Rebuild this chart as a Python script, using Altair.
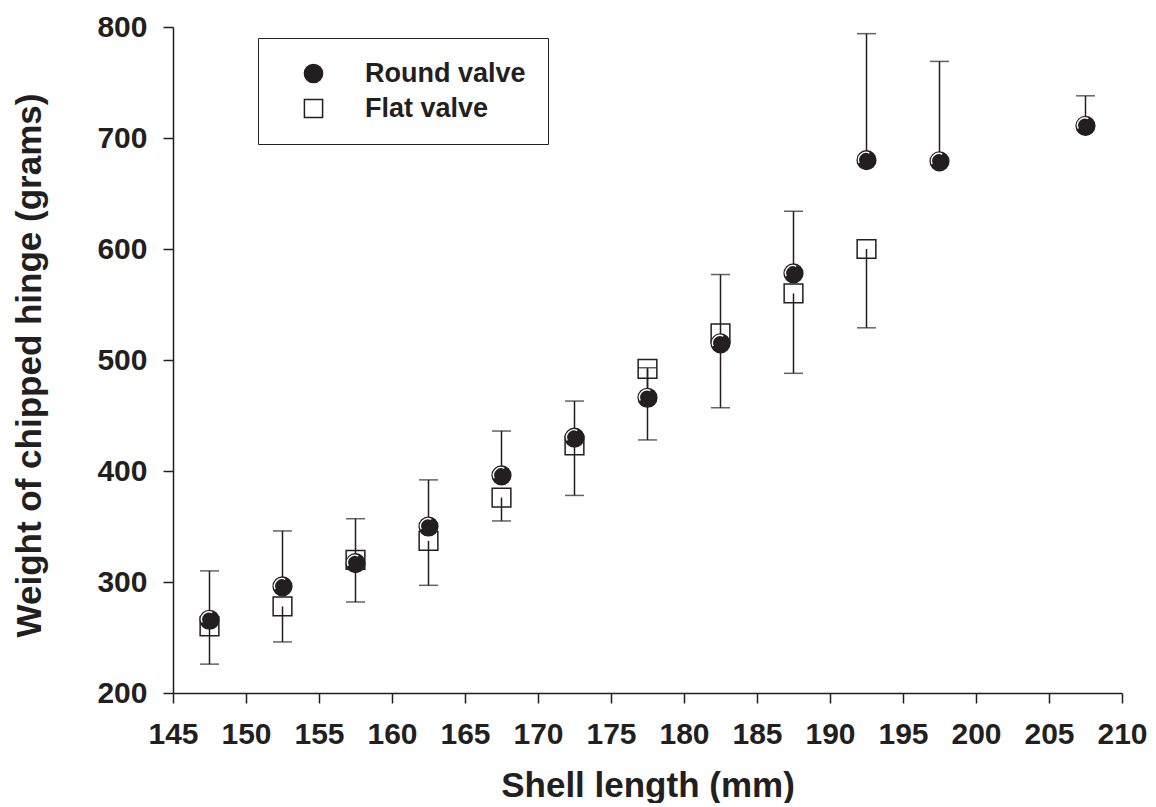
import altair as alt
import pandas as pd

# ---- data ----
round_length = [147.5, 152.5, 157.5, 162.5, 167.5, 172.5, 177.5, 182.5, 187.5, 192.5, 197.5, 207.5]
round_mean = [266, 296, 317, 350, 396, 430, 466, 515, 578, 680, 679, 711]
round_upper = [310, 346, 357, 392, 436, 463, 493, 577, 634, 794, 769, 738]

flat_length = [147.5, 152.5, 157.5, 162.5, 167.5, 172.5, 177.5, 182.5, 187.5, 192.5]
flat_mean = [260, 278, 320, 337, 376, 423, 492, 524, 560, 600]
flat_lower = [226, 246, 282, 297, 355, 378, 428, 457, 488, 529]

series_names = ["Round valve", "Flat valve"]
x_ticks = list(range(145, 211, 5))
y_ticks = list(range(200, 801, 100))

INK = "#231f20"
FONT = "Liberation Sans"

round_df = pd.DataFrame({"length": round_length, "mean": round_mean, "end": round_upper,
                         "series": series_names[0]})
flat_df = pd.DataFrame({"length": flat_length, "mean": flat_mean, "end": flat_lower,
                        "series": series_names[1]})
bars_df = pd.concat([round_df, flat_df], ignore_index=True)
points_df = pd.concat([flat_df, round_df], ignore_index=True)

x_enc = alt.X("length:Q",
              scale=alt.Scale(domain=[145, 210], nice=False, zero=False),
              axis=alt.Axis(values=x_ticks, title="Shell length (mm)", titleY=103,
                            titleBaseline="alphabetic", labelOverlap=False,
                            labelFlush=False))
y_scale = alt.Scale(domain=[200, 800], nice=False, zero=False)

rules = alt.Chart(bars_df).mark_rule(color=INK, strokeWidth=1.5).encode(
    x=x_enc,
    y=alt.Y("mean:Q", scale=y_scale,
            axis=alt.Axis(values=y_ticks, title="Weight of chipped hinge (grams)",
                          titleX=-133, titleY=338, titleBaseline="alphabetic",
                          labelOverlap=False, labelFlush=False)),
    y2="end:Q",
)

caps = alt.Chart(bars_df).mark_tick(color=INK, orient="horizontal", size=19, thickness=1.5).encode(
    x="length:Q",
    y=alt.Y("end:Q", scale=y_scale),
)

legend = alt.Legend(
    title=None, orient="none", legendX=85, legendY=11,
    strokeColor=INK, fillColor="white", padding=22, cornerRadius=0,
    labelFont=FONT, labelFontSize=27, labelFontWeight="bold", labelColor=INK,
    symbolSize=330, symbolStrokeWidth=1.5, symbolOffset=20, labelOffset=38,
    rowPadding=7, labelLimit=400,
)

points = alt.Chart(points_df).mark_point(filled=True, opacity=1, strokeWidth=1.5, size=350).encode(
    x="length:Q",
    y=alt.Y("mean:Q", scale=y_scale),
    shape=alt.Shape("series:N", legend=legend,
                    scale=alt.Scale(domain=series_names, range=["circle", "square"])),
    fill=alt.Fill("series:N", legend=legend,
                  scale=alt.Scale(domain=series_names, range=[INK, "transparent"])),
    stroke=alt.Stroke("series:N", legend=legend,
                      scale=alt.Scale(domain=series_names, range=[INK, INK])),
)

highlight = alt.Chart(round_df).mark_point(
    shape="M -0.78 0.3 A 0.8 0.8 0 0 1 0.3 -0.76",
    filled=False, stroke="white", strokeWidth=1.4, opacity=1, size=350,
).encode(
    x="length:Q",
    y=alt.Y("mean:Q", scale=y_scale),
)

chart = alt.layer(rules, caps, points, highlight).properties(
    width=949, height=666,
    autosize=alt.AutoSizeParams(type="none"),
    padding={"left": 165, "top": 19, "right": 26, "bottom": 110},
).configure_view(stroke=None).configure_axis(
    grid=False,
    domainColor=INK, domainWidth=1.5,
    tickColor=INK, tickWidth=1.5, tickSize=10,
    labelFont=FONT, labelFontSize=30, labelFontWeight="bold", labelColor=INK,
    labelPadding=16,
    titleFont=FONT, titleFontSize=35, titleFontWeight="bold", titleColor=INK,
)

chart.save("out.html", embed_options={"renderer": "svg", "actions": False})
